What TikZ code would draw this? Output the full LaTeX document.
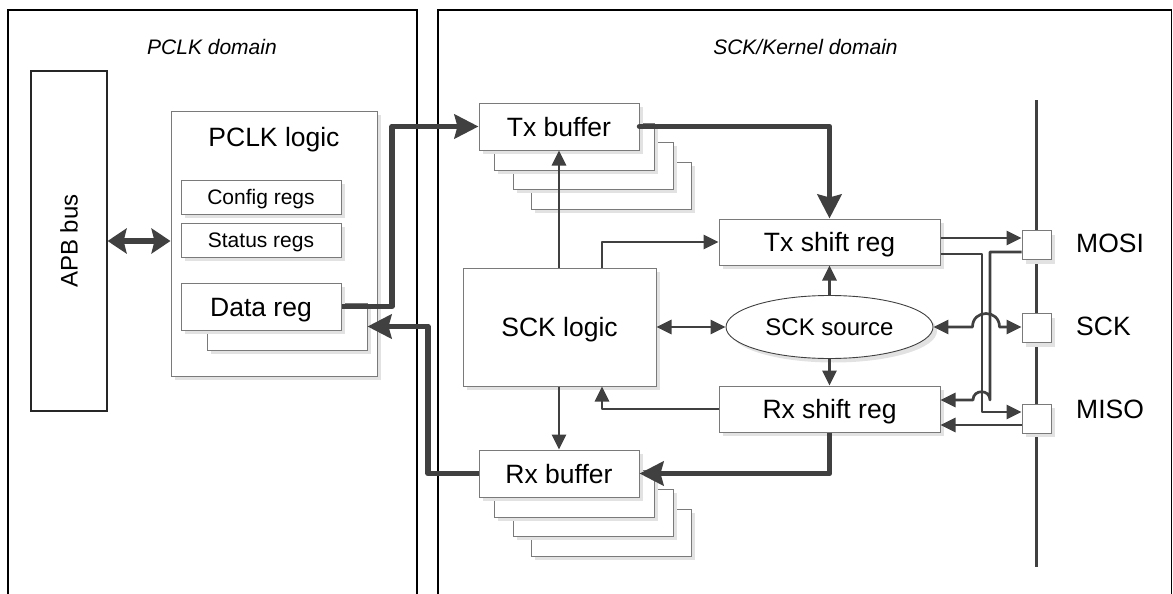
\documentclass[tikz,border=0pt]{standalone}
\usepackage{fontspec}
\setmainfont{Liberation Sans}
\usetikzlibrary{arrows.meta,shapes.geometric,shadows}

\definecolor{linegray}{HTML}{404040}
\definecolor{boxgray}{HTML}{7A7A7A}
\definecolor{shadegray}{HTML}{E2E2E2}

\newcommand\bigfont{\fontsize{26.5}{30}\selectfont}
\newcommand\midfont{\fontsize{21}{25}\selectfont}
\newcommand\srcfont{\fontsize{24}{28}\selectfont}
\newcommand\domfont{\fontsize{21}{25}\selectfont\itshape}

\tikzset{
  frame/.style={draw=black, line width=1.2pt},
  dom/.style={font=\domfont, inner sep=0pt},
  blk/.style={rectangle, draw=boxgray, line width=1pt, fill=white, inner sep=0pt,
    font=\bigfont, text height=19pt, text depth=0pt,
    drop shadow={shadow xshift=4pt, shadow yshift=-4pt, fill=shadegray, opacity=1}},
  smallblk/.style={blk, font=\midfont, text height=15pt},
  pad/.style={blk, minimum width=29, minimum height=29},
  padlabel/.style={font=\bigfont, anchor=west, inner sep=0pt, text height=19pt, text depth=0pt},
  wire/.style={draw=linegray, line width=2.7pt, line join=round,
    -{Triangle[length=15pt,width=14pt]}},
  wiretwo/.style={wire, {Triangle[length=15pt,width=14pt]}-{Triangle[length=15pt,width=14pt]}},
  bus/.style={draw=linegray, line width=5.5pt, line join=round,
    -{Stealth[length=24pt,width=24pt,inset=3pt]}},
  apbarrow/.style={bus, {Stealth[length=19pt,width=25pt,inset=3pt]}-{Stealth[length=19pt,width=25pt,inset=3pt]}}
}

\begin{document}
\begin{tikzpicture}[x=1pt,y=-1pt]
\useasboundingbox (0,0) rectangle (1173,594);

% clock domain frames (open at the bottom)
\draw[frame] (8,594) -- (8,10) -- (417,10) -- (417,594);
\draw[frame] (438,594) -- (438,10) -- (1171.5,10) -- (1171.5,594);
\node[dom, anchor=base] (pdl) at (212,55) {PCLK domain};
\node[dom, anchor=base] (kdl) at (805.5,55) {SCK/Kernel domain};

% APB bus
\node[draw=black!85, line width=1.2pt, minimum width=76, minimum height=340, inner sep=0pt] (apb) at (69,241) {};
\node[rotate=90, font=\srcfont, inner sep=0pt, text height=17pt, text depth=0pt] (apbl) at (69,241) {APB bus};

% PCLK logic block
\node[blk, minimum width=206, minimum height=265] (pclk) at (274,243.5) {};
\node[font=\bigfont, anchor=base, inner sep=0pt] (pclkl) at (274,146.7) {PCLK logic};
\node[smallblk, minimum width=160, minimum height=34] (cfg) at (261,197) {Config regs};
\node[smallblk, minimum width=160, minimum height=34] (sts) at (261,240) {Status regs};
\node[blk, minimum width=160, minimum height=47] (datb) at (287,326.5) {};
\node[blk, minimum width=160, minimum height=47] (dat) at (261,306.5) {Data reg};

% Tx buffer stack
\node[blk, minimum width=160, minimum height=47] (txbufc) at (559+52,126.5+59) {};
\node[blk, minimum width=160, minimum height=47] (txbufb) at (559+34,126.5+39) {};
\node[blk, minimum width=160, minimum height=47] (txbufa) at (559+15,126.5+20) {};
\node[blk, minimum width=160, minimum height=47] (txbuf) at (559,126.5) {Tx buffer};

% Rx buffer stack
\node[blk, minimum width=160, minimum height=47] (rxbufc) at (559+52,473.5+59) {};
\node[blk, minimum width=160, minimum height=47] (rxbufb) at (559+34,473.5+39) {};
\node[blk, minimum width=160, minimum height=47] (rxbufa) at (559+15,473.5+20) {};
\node[blk, minimum width=160, minimum height=47] (rxbuf) at (559,473.5) {Rx buffer};

% kernel clock side
\node[blk, minimum width=193, minimum height=118] (sckl) at (559.5,327) {SCK logic};
\node[blk, minimum width=221, minimum height=46] (txsr) at (829.5,242) {Tx shift reg};
\node[blk, minimum width=221, minimum height=46] (rxsr) at (829.5,409) {Rx shift reg};
\node[ellipse, draw=linegray, line width=0.9pt, fill=white, inner sep=0pt,
      minimum width=207, minimum height=63, font=\srcfont, text height=17pt, text depth=0pt,
      drop shadow={shadow xshift=4pt, shadow yshift=-4pt, fill=shadegray, opacity=1}]
      (src) at (829.5,327) {SCK source};

% external pins on the SPI line
\coordinate (busT) at (1036.5,100);
\coordinate (busB) at (1036.5,567);
\draw[draw=linegray, line width=2.5pt] (busT) -- (busB);
\node[pad] (mosi) at (1036.5,245) {};
\node[pad] (sckp) at (1036.5,328) {};
\node[pad] (miso) at (1036.5,418.5) {};
\node[padlabel] (mosil) at (1076,243) {MOSI};
\node[padlabel] (sckpl) at (1076,326) {SCK};
\node[padlabel] (misol) at (1076,409) {MISO};

% data path (thick)
\draw[apbarrow] (apb.east) -- (apb.east -| pclk.west);
\coordinate (j1) at (392,126.5);
\draw[bus] (dat.east) -| (j1) -- (txbuf.west);
\coordinate (j2) at (428,326.5);
\draw[bus] (rxbuf.west) -| (j2) -- (datb.east);
\draw[bus, line cap=round] (txbuf.east) -| (txsr.north);
\draw[bus] (rxsr.south) |- (rxbuf.east);

% control signals
\draw[wire] (txbuf.south |- sckl.north) -- (txbuf.south);
\coordinate (s1) at ([xshift=42.5pt]sckl.north);
\draw[wire] (s1) |- (txsr.west);
\draw[wiretwo] (sckl.east) -- (src.west);
\coordinate (s2) at ([xshift=42.5pt]sckl.south);
\draw[wire] (rxsr.west) -| (s2);
\draw[wire] (rxbuf.north |- sckl.south) -- (rxbuf.north);
\draw[wire] (src.north) -- (txsr.south);
\draw[wire] (src.south) -- (rxsr.north);

% shift registers to pins
\coordinate (vA) at (982,0);
\coordinate (vB) at (990,0);
\coordinate (t1) at ([yshift=4pt]txsr.east);
\draw[wire] (t1) -- (t1 -| mosi.west);
\coordinate (t2) at ([yshift=-12pt]txsr.east);
\coordinate (m1) at ([yshift=6.5pt]miso.west);
\draw[wire] (t2) -| (vA |- m1) -- (m1);
\coordinate (m0) at ([yshift=-7pt]mosi.west);
\coordinate (r1) at ([yshift=9pt]rxsr.east);
\coordinate (hR) at (vB |- r1);
\coordinate (hL) at ([xshift=-17pt]hR);
\draw[wire] (m0) -| (hR) .. controls +(0,-11) and +(0,-11) .. (hL) -- (r1);
\coordinate (k0) at (vA |- src.east);
\coordinate (kL) at ([xshift=-9.5pt]k0);
\coordinate (kR) at ([xshift=17.5pt]k0);
\draw[wiretwo] (src.east) -- (kL) .. controls +(0,-18) and +(0,-18) .. (kR) -- (kR -| sckp.west);
\coordinate (m2) at ([yshift=-6.5pt]miso.west);
\draw[wire] (m2) -- (m2 -| rxsr.east);
\end{tikzpicture}
\end{document}
